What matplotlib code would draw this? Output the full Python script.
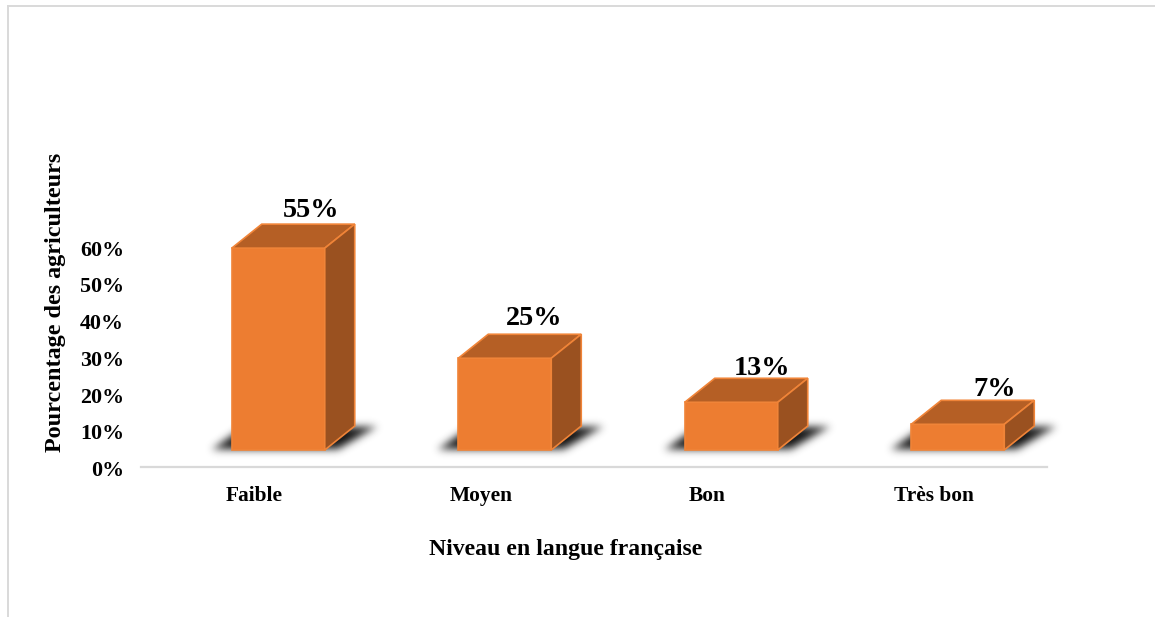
import matplotlib
matplotlib.use("Agg")
import matplotlib.pyplot as plt
import numpy as np
from matplotlib.lines import Line2D
from matplotlib.path import Path
from matplotlib.transforms import ScaledTranslation

categories = ["Faible", "Moyen", "Bon", "Très bon"]
values = [55, 25, 13, 7]
value_labels = ["55%", "25%", "13%", "7%"]
y_ticks = [0, 10, 20, 30, 40, 50, 60]
y_tick_labels = ["0%", "10%", "20%", "30%", "40%", "50%", "60%"]

W, H = 1155, 617
plt.rcParams['font.family'] = ['Liberation Serif', 'DejaVu Serif']
plt.rcParams['font.weight'] = 'bold'

fig = plt.figure(figsize=(W / 100, H / 100), dpi=100)

#axes placed in pixels, zero line at y=467
left, right, zero_y = 141, 1047, 467
px_per_pct = 3.67
ymax = 70
ax = fig.add_axes([left / W, 1 - zero_y / H, (right - left) / W, ymax * px_per_pct / H])

px_x = 4 / (right - left)   # one pixel in x data units
px_y = 1 / px_per_pct       # one pixel in y data units

bar_w = 93 * px_x
bar_off = 24 * px_x
base = 17 * px_y
dx = 30 * px_x
dy = 24 * px_y

front_c = "#ED7D31"
top_c = "#B55F25"
side_c = "#9A5120"
edge_c = "#F08438"

# tweaks for value label position, in pixels
label_dx = [3, -1, 1, 7]
label_dy = [-3, -1, -7, -6]


def blur(mask, sigma):
    r = int(3 * sigma)
    g = np.exp(-0.5 * (np.arange(-r, r + 1) / sigma) ** 2)
    g = g / g.sum()
    mask = np.apply_along_axis(lambda row: np.convolve(row, g, mode='same'), 1, mask)
    mask = np.apply_along_axis(lambda col: np.convolve(col, g, mode='same'), 0, mask)
    return mask


# floor shadow shape in pixels, origin at the bar front lower left corner
sh_w, sh_h = 220, 70
sh_x0, sh_y0 = -50, -20
gx, gy = np.meshgrid(np.arange(sh_w) + sh_x0 + 0.5, np.arange(sh_h) + sh_y0 + 0.5)
sh_poly = Path([(-22, 0), (106, 0), (147, 24), (12, 24)])
sh_mask = sh_poly.contains_points(np.c_[gx.ravel(), gy.ravel()]).reshape(gx.shape).astype(float)
sh_mask = blur(sh_mask, 4.5)
sh_rgba = np.zeros((sh_h, sh_w, 4))
sh_rgba[..., :3] = 0.12
sh_rgba[..., 3] = np.clip(sh_mask * 1.05, 0, 1) ** 1.3

for i, v in enumerate(values):
    x0 = i + bar_off - bar_w / 2
    x1 = x0 + bar_w
    y1 = base + v

    ax.imshow(sh_rgba, origin='lower', aspect='auto', zorder=1, clip_on=False, interpolation='bilinear',
              extent=[x0 + sh_x0 * px_x, x0 + (sh_x0 + sh_w) * px_x,
                      base + sh_y0 * px_y, base + (sh_y0 + sh_h) * px_y])

    ax.fill([x0, x1, x1, x0], [base, base, y1, y1], fc=front_c, ec=edge_c, lw=1.2, zorder=3)
    ax.fill([x0, x1, x1 + dx, x0 + dx], [y1, y1, y1 + dy, y1 + dy], fc=top_c, ec=edge_c, lw=1.2, zorder=3)
    ax.fill([x1, x1 + dx, x1 + dx, x1], [base, base + dy, y1 + dy, y1], fc=side_c, ec=edge_c, lw=1.2, zorder=3)

    ax.text(x0 + dx + bar_w / 2 + label_dx[i] * px_x, y1 + dy + (4 + label_dy[i]) * px_y, value_labels[i],
            ha='center', va='bottom', fontsize=20.3, fontweight='bold', color='black', zorder=4)

ax.set_xlim(-0.5, 3.5)
ax.set_ylim(0, ymax)
ax.patch.set_visible(False)
for s in ['top', 'right', 'left']:
    ax.spines[s].set_visible(False)
ax.spines['bottom'].set_color('#d9d9d9')
ax.spines['bottom'].set_linewidth(1.6)

ax.set_yticks(y_ticks)
ax.set_yticklabels(y_tick_labels, fontsize=15.8, fontweight='bold')
ax.set_xticks(range(len(categories)))
ax.set_xticklabels(categories, fontsize=15.4, fontweight='bold')
ax.tick_params(axis='y', length=0, pad=12.2)
ax.tick_params(axis='x', length=0, pad=14)
# y tick labels sit a bit lower than the scale
shift = ScaledTranslation(0, -1.5 / 100, fig.dpi_scale_trans)
for lab in ax.get_yticklabels():
    lab.set_transform(lab.get_transform() + shift)

fig.text(566 / W, 1 - 550 / H, "Niveau en langue française", ha='center', va='center', fontsize=17.1, fontweight='bold')
fig.text(56 / W, 1 - 302 / H, "Pourcentage des agriculteurs", ha='center', va='center', rotation=90,
         fontsize=17.4, fontweight='bold')

# chart frame, only top and left show
fig.add_artist(Line2D([8 / W, 8 / W], [0, 1 - 6 / H], color='#d9d9d9', lw=1.4))
fig.add_artist(Line2D([8 / W, 1], [1 - 6 / H, 1 - 6 / H], color='#d9d9d9', lw=1.4))

fig.savefig("out.png", dpi=100)
